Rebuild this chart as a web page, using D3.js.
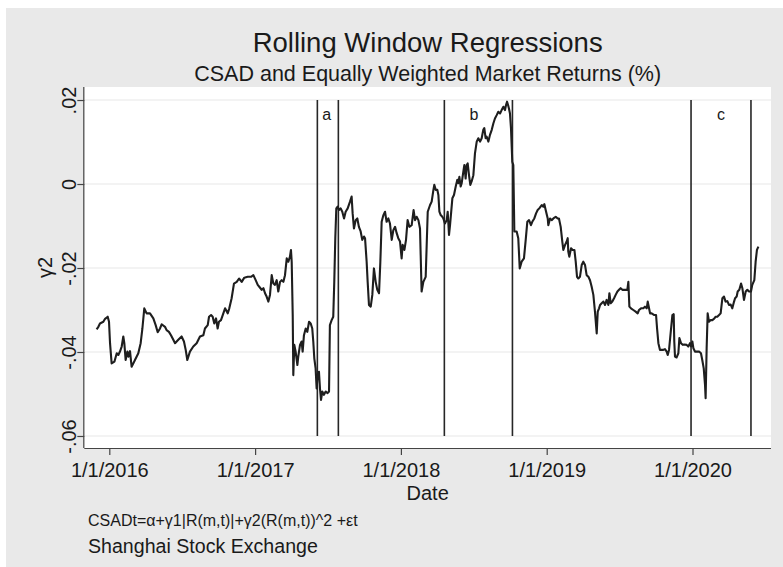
<!DOCTYPE html>
<html><head><meta charset="utf-8">
<script src="https://cdn.jsdelivr.net/npm/d3@7/dist/d3.min.js"></script>
<style>body{margin:0;background:#fff}text{font-family:"Liberation Sans",Arial,Helvetica,sans-serif;fill:#1a1a1a}</style>
</head><body><svg id="c" width="783" height="567"></svg>
<script>
// ---- data (decimal year, gamma2) ----
const years=[2015.913,2015.925,2015.936,2015.959,2015.971,2015.989,2015.998,2016.005,2016.016,2016.035,2016.051,2016.062,2016.073,2016.085,2016.096,2016.103,2016.112,2016.124,2016.131,2016.142,2016.153,2016.165,2016.176,2016.199,2016.215,2016.227,2016.240,2016.256,2016.279,2016.302,2016.318,2016.332,2016.348,2016.359,2016.382,2016.393,2016.409,2016.423,2016.439,2016.451,2016.473,2016.496,2016.512,2016.524,2016.535,2016.553,2016.576,2016.599,2016.622,2016.645,2016.656,2016.675,2016.684,2016.698,2016.709,2016.720,2016.732,2016.743,2016.752,2016.766,2016.778,2016.794,2016.812,2016.823,2016.839,2016.855,2016.874,2016.890,2016.908,2016.926,2016.949,2016.972,2016.988,2017.004,2017.018,2017.034,
2017.045,2017.057,2017.068,2017.079,2017.091,2017.102,2017.114,2017.125,2017.136,2017.148,2017.159,2017.171,2017.182,2017.194,2017.205,2017.217,2017.228,2017.239,2017.246,2017.251,2017.258,2017.262,2017.269,2017.278,2017.290,2017.296,2017.308,2017.319,2017.326,2017.335,2017.347,2017.358,2017.370,2017.381,2017.392,2017.399,2017.406,2017.415,2017.422,2017.429,2017.438,2017.445,2017.452,2017.461,2017.472,2017.484,2017.497,2017.507,2017.513,2017.525,2017.536,2017.543,2017.550,2017.557,2017.566,2017.575,2017.587,2017.598,2017.610,2017.621,2017.635,2017.651,2017.662,2017.669,2017.678,2017.690,2017.701,2017.712,2017.724,2017.735,2017.747,2017.754,2017.765,2017.772,2017.781,2017.793,2017.804,2017.815,2017.827,2017.838,2017.850,2017.859,2017.868,2017.880,2017.891,2017.902,2017.914,2017.925,2017.937,2017.948,2017.960,2017.971,2017.982,2017.994,2018.005,2018.012,2018.024,2018.035,2018.046,2018.058,2018.074,2018.087,2018.097,2018.108,2018.120,2018.131,2018.142,2018.154,2018.170,2018.184,2018.200,
2018.211,2018.223,2018.229,2018.239,2018.250,2018.257,2018.264,2018.273,2018.284,2018.291,2018.302,2018.314,2018.321,2018.330,2018.337,2018.344,2018.353,2018.364,2018.376,2018.387,2018.394,2018.401,2018.410,2018.417,2018.428,2018.435,2018.444,2018.451,2018.458,2018.467,2018.476,2018.485,2018.497,2018.508,2018.520,2018.531,2018.543,2018.554,2018.565,2018.572,2018.581,2018.588,2018.600,2018.611,2018.623,2018.634,2018.645,2018.657,2018.668,2018.680,2018.691,2018.703,2018.714,2018.721,2018.728,2018.735,2018.741,2018.748,2018.755,2018.764,2018.771,2018.778,2018.794,2018.805,2018.815,2018.828,2018.844,2018.856,2018.867,2018.879,2018.892,2018.901,2018.915,2018.927,2018.938,2018.949,2018.966,2018.977,2018.984,2018.993,2019.007,2019.011,2019.023,2019.034,2019.046,2019.062,2019.075,2019.084,2019.096,2019.107,2019.114,2019.126,2019.137,2019.144,2019.148,2019.155,2019.167,2019.178,2019.190,2019.199,2019.208,2019.217,2019.228,2019.240,2019.251,2019.263,2019.274,2019.286,2019.297,2019.308,2019.320,2019.331,2019.343,
2019.350,2019.359,2019.366,2019.377,2019.389,2019.400,2019.411,2019.423,2019.430,2019.439,2019.450,2019.462,2019.473,2019.485,2019.496,2019.507,2019.519,2019.537,2019.553,2019.560,2019.567,2019.578,2019.594,2019.610,2019.624,2019.633,2019.647,2019.663,2019.674,2019.686,2019.693,2019.702,2019.709,2019.720,2019.738,2019.750,2019.757,2019.766,2019.777,2019.789,2019.800,2019.811,2019.823,2019.830,2019.839,2019.853,2019.862,2019.871,2019.875,2019.880,2019.891,2019.903,2019.910,2019.921,2019.933,2019.944,2019.960,2019.971,2019.983,2019.990,2019.999,2020.006,2020.017,2020.029,2020.045,2020.058,2020.067,2020.077,2020.086,2020.090,2020.097,2020.104,2020.113,2020.125,2020.136,2020.147,2020.159,2020.170,2020.182,2020.193,2020.205,2020.216,2020.227,2020.239,2020.250,2020.262,2020.273,2020.285,2020.292,2020.303,2020.310,2020.321,2020.333,2020.342,2020.353,2020.365,2020.376,2020.388,2020.401,2020.410,2020.424,2020.433,2020.442,2020.452];
const values=[-0.0346,-0.0340,-0.0332,-0.0328,-0.0321,-0.0316,-0.0328,-0.0379,-0.0427,-0.0423,-0.0403,-0.0407,-0.0399,-0.0387,-0.0363,-0.0379,-0.0419,-0.0399,-0.0411,-0.0398,-0.0435,-0.0427,-0.0419,-0.0403,-0.0379,-0.0344,-0.0296,-0.0308,-0.0308,-0.0320,-0.0336,-0.0353,-0.0344,-0.0334,-0.0340,-0.0348,-0.0352,-0.0360,-0.0371,-0.0379,-0.0371,-0.0363,-0.0375,-0.0395,-0.0419,-0.0399,-0.0387,-0.0379,-0.0363,-0.0360,-0.0344,-0.0336,-0.0316,-0.0312,-0.0316,-0.0332,-0.0320,-0.0344,-0.0328,-0.0324,-0.0312,-0.0296,-0.0308,-0.0296,-0.0272,-0.0237,-0.0233,-0.0225,-0.0233,-0.0223,-0.0221,-0.0221,-0.0217,-0.0229,-0.0240,-0.0247,
-0.0252,-0.0248,-0.0260,-0.0268,-0.0280,-0.0264,-0.0217,-0.0237,-0.0240,-0.0229,-0.0256,-0.0233,-0.0229,-0.0233,-0.0217,-0.0177,-0.0185,-0.0173,-0.0157,-0.0185,-0.0312,-0.0455,-0.0383,-0.0399,-0.0431,-0.0411,-0.0383,-0.0375,-0.0399,-0.0360,-0.0344,-0.0352,-0.0328,-0.0332,-0.0344,-0.0375,-0.0415,-0.0439,-0.0487,-0.0455,-0.0447,-0.0487,-0.0514,-0.0494,-0.0502,-0.0494,-0.0498,-0.0494,-0.0336,-0.0324,-0.0316,-0.0233,-0.0129,-0.0058,-0.0054,-0.0062,-0.0058,-0.0066,-0.0082,-0.0066,-0.0058,-0.0042,-0.0030,-0.0070,-0.0106,-0.0086,-0.0082,-0.0102,-0.0113,-0.0133,-0.0125,-0.0129,-0.0185,-0.0233,-0.0288,-0.0292,-0.0264,-0.0201,-0.0233,-0.0252,-0.0260,-0.0185,-0.0090,-0.0074,-0.0066,-0.0090,-0.0082,-0.0094,-0.0133,-0.0110,-0.0102,-0.0117,-0.0129,-0.0137,-0.0177,-0.0145,-0.0157,-0.0133,-0.0086,-0.0102,-0.0098,-0.0062,-0.0086,-0.0078,-0.0086,-0.0106,-0.0256,-0.0233,-0.0221,-0.0066,-0.0050,
-0.0042,-0.0014,-0.0002,-0.0014,-0.0014,-0.0026,-0.0066,-0.0074,-0.0078,-0.0082,-0.0094,-0.0086,-0.0066,-0.0121,-0.0098,-0.0070,-0.0034,-0.0026,-0.0006,0.0010,0.0002,0.0017,-0.0006,0.0002,0.0029,0.0045,0.0013,0.0045,0.0049,0.0021,-0.0002,0.0006,0.0021,0.0073,0.0101,0.0109,0.0101,0.0109,0.0129,0.0133,0.0109,0.0113,0.0101,0.0117,0.0129,0.0144,0.0156,0.0164,0.0172,0.0168,0.0176,0.0184,0.0176,0.0188,0.0196,0.0188,0.0180,0.0168,0.0133,0.0053,0.0045,-0.0113,-0.0113,-0.0129,-0.0201,-0.0185,-0.0177,-0.0133,-0.0090,-0.0086,-0.0098,-0.0090,-0.0082,-0.0070,-0.0062,-0.0058,-0.0050,-0.0054,-0.0048,-0.0062,-0.0082,-0.0098,-0.0082,-0.0086,-0.0082,-0.0078,-0.0082,-0.0082,-0.0102,-0.0137,-0.0157,-0.0145,-0.0137,-0.0129,-0.0161,-0.0173,-0.0153,-0.0157,-0.0157,-0.0185,-0.0221,-0.0225,-0.0221,-0.0193,-0.0185,-0.0193,-0.0217,-0.0221,-0.0229,-0.0244,-0.0264,-0.0304,-0.0356,
-0.0304,-0.0296,-0.0288,-0.0284,-0.0280,-0.0288,-0.0276,-0.0288,-0.0260,-0.0284,-0.0280,-0.0272,-0.0264,-0.0256,-0.0252,-0.0248,-0.0252,-0.0252,-0.0252,-0.0233,-0.0292,-0.0296,-0.0300,-0.0304,-0.0308,-0.0300,-0.0296,-0.0296,-0.0292,-0.0296,-0.0280,-0.0296,-0.0308,-0.0308,-0.0312,-0.0312,-0.0344,-0.0379,-0.0395,-0.0395,-0.0395,-0.0393,-0.0399,-0.0407,-0.0395,-0.0344,-0.0312,-0.0310,-0.0375,-0.0411,-0.0413,-0.0403,-0.0367,-0.0379,-0.0383,-0.0382,-0.0383,-0.0387,-0.0379,-0.0387,-0.0375,-0.0391,-0.0399,-0.0399,-0.0399,-0.0403,-0.0419,-0.0439,-0.0479,-0.0510,-0.0391,-0.0308,-0.0328,-0.0324,-0.0324,-0.0321,-0.0316,-0.0316,-0.0312,-0.0308,-0.0272,-0.0268,-0.0280,-0.0279,-0.0288,-0.0287,-0.0296,-0.0280,-0.0272,-0.0268,-0.0256,-0.0252,-0.0237,-0.0248,-0.0276,-0.0256,-0.0252,-0.0256,-0.0256,-0.0240,-0.0229,-0.0185,-0.0157,-0.0149];

const xTickYears=[2016,2017,2018,2019,2020];
const xTickLabels=["1/1/2016","1/1/2017","1/1/2018","1/1/2019","1/1/2020"];
const yTickValues=[0.02,0,-0.02,-0.04,-0.06];
const yTickLabels=[".02","0","-.02","-.04","-.06"];
const eventLineYears=[2017.427,2017.571,2018.298,2018.765,2019.990,2020.401];
const eventLabels=["a","b","c"];
const eventLabelYears=[2017.491,2018.501,2020.195];

const titleText="Rolling Window Regressions";
const subtitleText="CSAD and Equally Weighted Market Returns (%)";
const xTitle="Date", yTitle="γ2";
const noteText="CSADt=α+γ1|R(m,t)|+γ2(R(m,t))^2 +εt";
const captionText="Shanghai Stock Exchange";

// ---- layout ----
const svg=d3.select("#c");
const L=84.3,R=771,T=87,B=448;
svg.append("rect").attr("x",6).attr("y",8).attr("width",777).attr("height",559).attr("fill","#e9e9e9");
svg.append("rect").attr("x",L).attr("y",T).attr("width",R-L).attr("height",B-T).attr("fill","#fff");

const x=d3.scaleLinear().domain([2015.8285,2020.5384]).range([L,R]);
const y=d3.scaleLinear().domain([-0.06286,0.0231]).range([B,T]);

// gridlines
svg.append("g").selectAll("line").data(yTickValues).join("line")
  .attr("x1",L).attr("x2",R).attr("y1",d=>y(d)).attr("y2",d=>y(d))
  .attr("stroke","#e8e8e8").attr("stroke-width",1.2);

// event lines
svg.append("g").selectAll("line").data(eventLineYears).join("line")
  .attr("x1",d=>x(d)).attr("x2",d=>x(d)).attr("y1",y(0.02)).attr("y2",y(-0.06))
  .attr("stroke","#262626").attr("stroke-width",1.6);
svg.append("g").selectAll("text").data(eventLabels).join("text")
  .attr("x",(d,i)=>x(eventLabelYears[i])).attr("y",120).attr("text-anchor","middle")
  .attr("font-size",16).text(d=>d);

// series
const pts=years.map((yr,i)=>[yr,values[i]]);
svg.append("path").datum(pts)
  .attr("d",d3.line().x(d=>x(d[0])).y(d=>y(d[1])))
  .attr("fill","none").attr("stroke","#1e1e1e").attr("stroke-width",2.1).attr("stroke-linejoin","round");

// axes
const xAxis=d3.axisBottom(x).tickValues(xTickYears).tickFormat((d,i)=>xTickLabels[i]).tickSize(7).tickPadding(6);
const gx=svg.append("g").attr("transform",`translate(0,${B})`).call(xAxis);
gx.select(".domain").attr("stroke","#444").attr("stroke-width",1.2).attr("d",`M${L},0.5H${R}`);
gx.selectAll(".tick line").attr("stroke","#444").attr("stroke-width",1.2);
gx.selectAll(".tick text").attr("font-size",20).attr("fill","#1a1a1a").attr("font-family",null).attr("dy",null).attr("y",29);

const yAxis=d3.axisLeft(y).tickValues(yTickValues).tickFormat((d,i)=>yTickLabels[i]).tickSize(7).tickPadding(0);
const gy=svg.append("g").attr("transform",`translate(${L},0)`).call(yAxis);
gy.select(".domain").attr("stroke","#444").attr("stroke-width",1.2).attr("d",`M-0.5,${T}V${B}`);
gy.selectAll(".tick line").attr("stroke","#444").attr("stroke-width",1.2);
gy.selectAll(".tick text").attr("font-size",20).attr("fill","#1a1a1a").attr("font-family",null)
  .attr("x",null).attr("dy",null).attr("text-anchor","middle").attr("transform","translate(-8,0) rotate(-90)");

// titles
svg.append("text").attr("x",(L+R)/2).attr("y",52).attr("text-anchor","middle").attr("font-size",27.5).text(titleText);
svg.append("text").attr("x",(L+R)/2).attr("y",81).attr("text-anchor","middle").attr("font-size",21.5).text(subtitleText);
svg.append("text").attr("x",(L+R)/2).attr("y",500).attr("text-anchor","middle").attr("font-size",20).text(xTitle);
svg.append("text").attr("transform",`translate(52,${(T+B)/2}) rotate(-90)`).attr("text-anchor","middle").attr("font-size",20).text(yTitle);
svg.append("text").attr("x",88).attr("y",526).attr("font-size",16).text(noteText);
svg.append("text").attr("x",88).attr("y",553).attr("font-size",19.6).text(captionText);
</script></body></html>
